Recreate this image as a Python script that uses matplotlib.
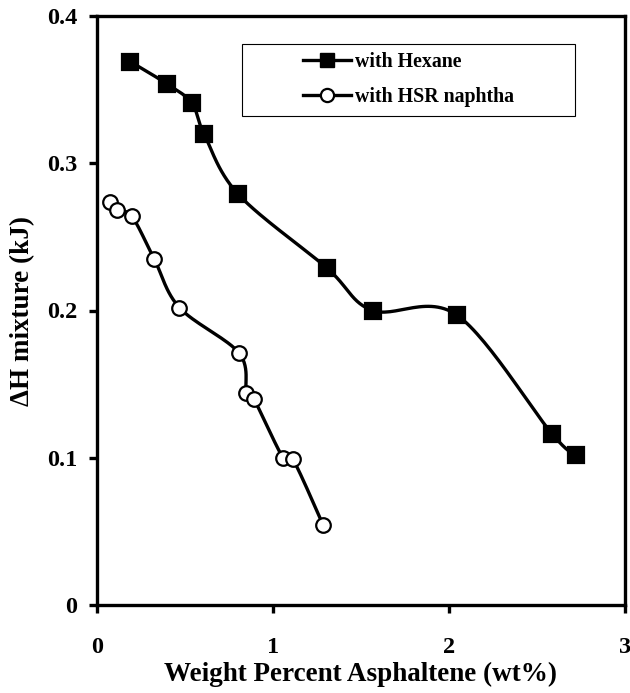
import numpy as np
import matplotlib
matplotlib.use("Agg")
import matplotlib.pyplot as plt
from matplotlib.patches import Rectangle

plt.rcParams["font.family"] = ["Liberation Serif", "DejaVu Serif"]
plt.rcParams["font.weight"] = "bold"

# with Hexane
hex_x = [0.189, 0.396, 0.538, 0.608, 0.802, 1.305, 1.566, 2.044, 2.587, 2.724]
hex_y = [0.369, 0.354, 0.341, 0.320, 0.279, 0.229, 0.200, 0.197, 0.116, 0.102]
# with HSR naphtha
hsr_x = [0.075, 0.113, 0.198, 0.325, 0.468, 0.808, 0.849, 0.891, 1.057, 1.113, 1.286]
hsr_y = [0.274, 0.268, 0.264, 0.235, 0.202, 0.171, 0.144, 0.140, 0.100, 0.099, 0.054]

XMAX, YMAX = 3, 0.4
W_PX, H_PX = 528, 589  # axes size in pixels, smoothing done in screen space


def smooth(xs, ys, n=30):
    # Excel-style smoothed line: cubic Bezier, control points from neighbours / 6
    p = np.column_stack([np.array(xs) / XMAX * W_PX, np.array(ys) / YMAX * H_PX])
    out = []
    for i in range(len(p) - 1):
        p0 = p[i - 1] if i > 0 else p[i]
        p1, p2 = p[i], p[i + 1]
        p3 = p[i + 2] if i + 2 < len(p) else p[i + 1]
        b1 = p1 + (p2 - p0) / 6
        b2 = p2 - (p3 - p1) / 6
        t = np.linspace(0, 1, n)[:, None]
        seg = (1 - t) ** 3 * p1 + 3 * (1 - t) ** 2 * t * b1 + 3 * (1 - t) * t ** 2 * b2 + t ** 3 * p2
        out.append(seg if i == 0 else seg[1:])
    c = np.vstack(out)
    return c[:, 0] / W_PX * XMAX, c[:, 1] / H_PX * YMAX


fig = plt.figure(figsize=(6.3, 6.93), dpi=100)
ax = fig.add_axes([97 / 630, 88 / 693, 528 / 630, 589 / 693])

SQ_MS, CI_MS = 11.5, 10.5
for xs, ys, mk, fc in [(hex_x, hex_y, "s", "black"), (hsr_x, hsr_y, "o", "white")]:
    sx, sy = smooth(xs, ys)
    ax.plot(sx, sy, "-", color="black", lw=2.4, zorder=2)
    ax.plot(xs, ys, ls="none", marker=mk, ms=CI_MS if mk == "o" else SQ_MS,
            mfc=fc, mec="black", mew=1.6, zorder=3)

# legend proxies
h1, = ax.plot([], [], "-", color="black", lw=2.4, marker="s", ms=10.5, mfc="black", mec="black")
h2, = ax.plot([], [], "-", color="black", lw=2.4, marker="o", ms=9.5, mfc="white", mec="black", mew=1.6)

ax.set_xlim(0, XMAX)
ax.set_ylim(0, YMAX)
ax.set_xticks([0, 1, 2, 3])
ax.set_yticks([0, 0.1, 0.2, 0.3, 0.4])
ax.set_xticklabels(["0", "1", "2", "3"])
ax.set_yticklabels(["0", "0.1", "0.2", "0.3", "0.4"])
for s in ax.spines.values():
    s.set_linewidth(2.4)
ax.tick_params(direction="out", length=6, width=2.4, labelsize=17.5)
ax.tick_params(axis="x", pad=17)
ax.tick_params(axis="y", pad=8)
ax.set_xlabel("Weight Percent Asphaltene (wt%)", fontsize=19.5, fontweight="bold", labelpad=3)
ax.set_ylabel("ΔH mixture (kJ)", fontsize=19.5, fontweight="bold", labelpad=9)

ax.add_patch(Rectangle((0.274, 0.830), 0.632, 0.123, transform=ax.transAxes,
                       fill=False, ec="black", lw=0.8, zorder=4))
ax.legend([h1, h2], ["with Hexane", "with HSR naphtha"], loc="center",
          bbox_to_anchor=(0.59, 0.892), frameon=False,
          handlelength=2.4, handletextpad=0.2, labelspacing=0.78,
          prop={"weight": "bold", "size": 14.3})

fig.savefig("out.png", dpi=100)
